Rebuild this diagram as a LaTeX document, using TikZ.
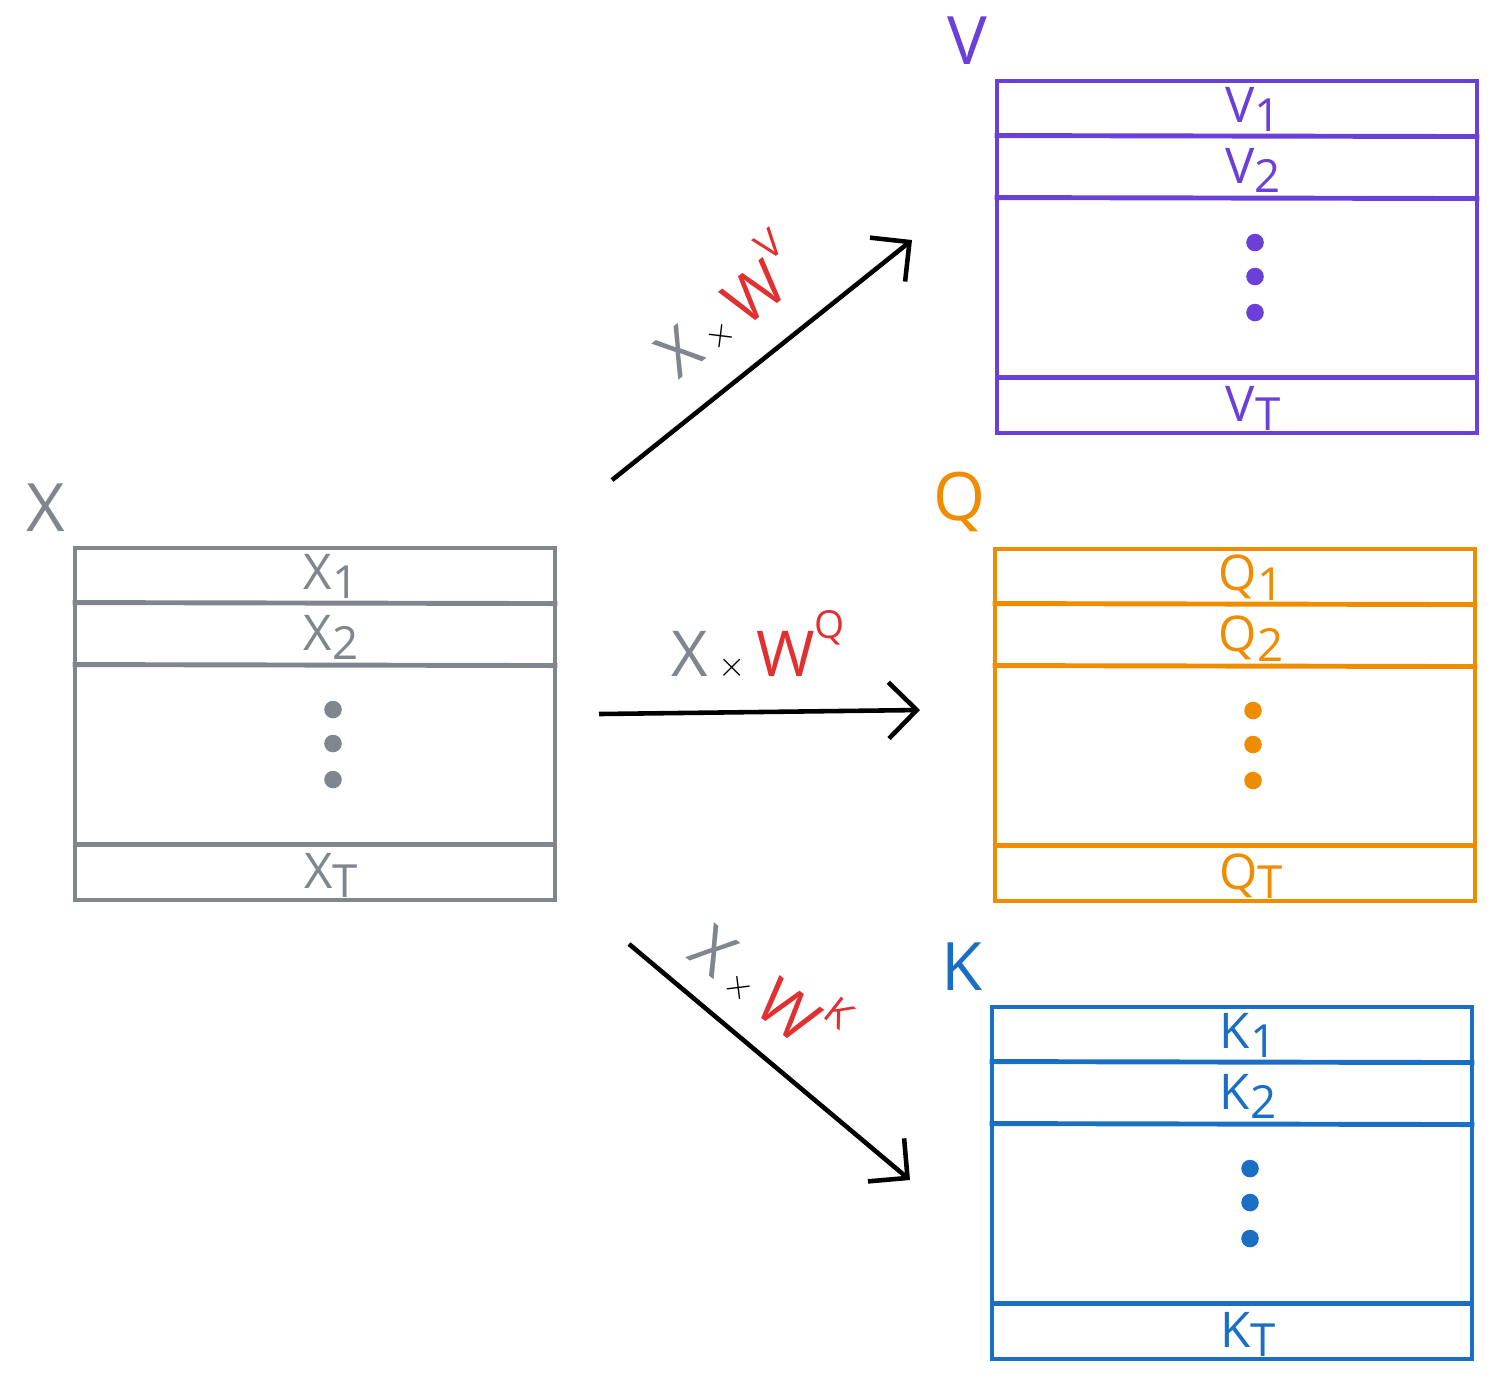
\documentclass[tikz,border=0pt]{standalone}
\usepackage{fontspec}
\setmainfont{Open Sans}
\usetikzlibrary{positioning}
\usetikzlibrary{arrows.meta}
\usetikzlibrary{calc}
\definecolor{xgray}{HTML}{80868E}
\definecolor{vpurple}{HTML}{6A40D8}
\definecolor{qorange}{HTML}{F08C00}
\definecolor{kblue}{HTML}{1A6FC4}
\definecolor{wred}{HTML}{E03030}
\tikzset{matbox/.style={draw,line width=1.4pt,minimum width=4.8cm,minimum height=3.52cm,inner sep=0pt}}
\tikzset{row/.style={line width=1.4pt}}
\tikzset{dot/.style={circle,fill,inner sep=0pt,minimum size=5pt}}
\tikzset{entry/.style={font=\fontsize{14}{14}\selectfont}}
\tikzset{title/.style={font=\fontsize{19}{19}\selectfont}}
\tikzset{wlabel/.style={font=\fontsize{18}{18}\selectfont}}
\tikzset{edge/.style={draw,line width=1.3pt,-{Straight Barb[length=8pt,width=16pt,line width=1.3pt]}}}
\newcommand{\sub}[1]{\raisebox{-0.35ex}{\fontsize{13}{13}\selectfont #1}}
\newcommand{\qkvmatrix}[4]{% name, colour, letter, centre
  \node [matbox,color=#2] (#1) at #4 {};
  \draw [row,color=#2] ($(#1.north west)+(0,-0.57)$) -- ($(#1.north east)+(0,-0.58)$);
  \draw [row,color=#2] ($(#1.north west)+(0,-1.19)$) -- ($(#1.north east)+(0,-1.2)$);
  \draw [row,color=#2] ($(#1.south west)+(0,0.58)$) -- ($(#1.south east)+(0,0.58)$);
  \node [entry,color=#2] (#1-1) at ($(#1.north)+(0.16,-0.31)$) {#3\sub{1}};
  \node [entry,color=#2] (#1-2) at ($(#1.north)+(0.16,-0.92)$) {#3\sub{2}};
  \node [entry,color=#2] (#1-T) at ($(#1.south)+(0.16,0.27)$) {#3\sub{T}};
  \foreach \d in {1.64,1.98,2.34}
    \node [dot,color=#2] at ($(#1.north)+(0.18,-\d)$) {};
  \node [title,color=#2,above left=0.02cm and -0.05cm of #1.north west] (#1-title) {#3};
}
\begin{document}
\begin{tikzpicture}
  \useasboundingbox (0,0) rectangle (14.99,-13.85);

  % matrices
  \qkvmatrix{X}{xgray}{X}{(3.15,-7.24)}
  \qkvmatrix{V}{vpurple}{V}{(12.37,-2.57)}
  \qkvmatrix{Q}{qorange}{Q}{(12.35,-7.25)}
  \qkvmatrix{K}{kblue}{K}{(12.32,-11.83)}

  % arrow ends
  \coordinate (av0) at (6.12,-4.80);
  \coordinate (av1) at (9.12,-2.40);
  \coordinate (aq0) at (5.99,-7.14);
  \coordinate (aq1) at (9.20,-7.10);
  \coordinate (ak0) at (6.29,-9.44);
  \coordinate (ak1) at (9.10,-11.80);

  % arrows
  \path [edge] (av0) -- (av1);
  \path [edge] (aq0) -- (aq1);
  \path [edge] (ak0) -- (ak1);

  % labels
  \node [wlabel,rotate=38] (lv) at (7.25,-3.05)
    {\textcolor{xgray}{X}\,{\normalsize$\times$}\,\textcolor{wred}{W\raisebox{1.1ex}{\fontsize{11}{11}\selectfont V}}};
  \node [wlabel] (lq) at (7.58,-6.45)
    {\textcolor{xgray}{X}\,{\normalsize$\times$}\,\textcolor{wred}{W\raisebox{1.1ex}{\fontsize{11}{11}\selectfont Q}}};
  \node [wlabel,rotate=-38] (lk) at (7.70,-9.85)
    {\textcolor{xgray}{X}\,{\normalsize$\times$}\,\textcolor{wred}{W\raisebox{1.1ex}{\fontsize{11}{11}\selectfont K}}};
\end{tikzpicture}
\end{document}
